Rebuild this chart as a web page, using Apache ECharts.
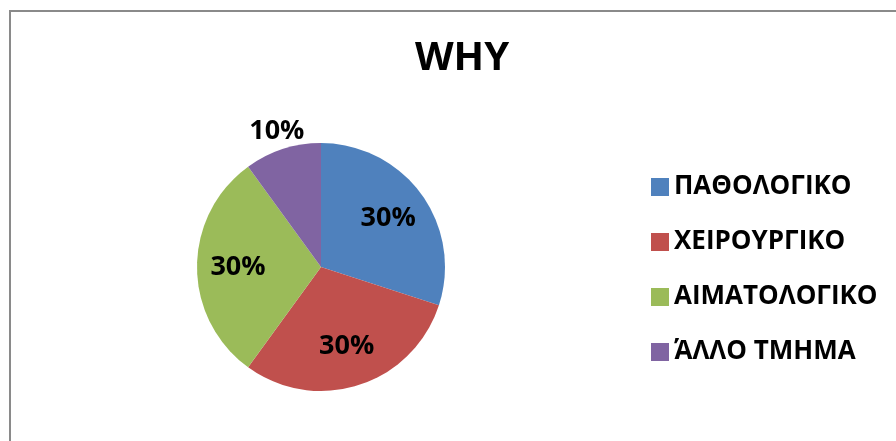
<!DOCTYPE html>
<html>
<head>
<meta charset="utf-8">
<script src="https://cdn.jsdelivr.net/npm/echarts@6/dist/echarts.min.js"></script>
<style>
  html, body { margin: 0; padding: 0; background: #fff; }
  #chart { width: 896px; height: 441px; }
</style>
</head>
<body>
<div id="chart"></div>
<script>
// Department shares
const categories = ['ΠΑΘΟΛΟΓΙΚΟ', 'ΧΕΙΡΟΥΡΓΙΚΟ', 'ΑΙΜΑΤΟΛΟΓΙΚΟ', 'ΆΛΛΟ ΤΜΗΜΑ'];
const shares = [30, 30, 30, 10];
const colors = ['#4F81BD', '#C0504D', '#9BBB59', '#8064A2'];
const titleText = 'WHY';

const FONT = '"Open Sans", "Noto Sans", sans-serif';
const CX = 321, CY = 267, R = 124;

const pieData = categories.map((name, i) => ({
  name, value: shares[i], itemStyle: { color: colors[i] }
}));

const labelStyle = {
  fontFamily: FONT, fontWeight: 'bold', fontSize: 27, color: '#000',
  padding: [6, 0, 0, 0],
  formatter: p => p.value + '%'
};

const chart = echarts.init(document.getElementById('chart'));
chart.setOption({
  animation: false,
  title: {
    text: titleText, left: 457, top: 34, textAlign: 'center',
    textStyle: { fontFamily: FONT, fontWeight: 'bold', fontSize: 40, color: '#000' }
  },
  legend: {
    orient: 'vertical', left: 646, top: 169,
    icon: 'rect', itemWidth: 18, itemHeight: 18, itemGap: 29,
    selectedMode: false,
    data: categories.map((name, i) => ({ name, itemStyle: { color: colors[i] } })),
    textStyle: { fontFamily: FONT, fontWeight: 'bold', fontSize: 26, lineHeight: 26, color: '#000', padding: [0, 0, 0, 0] }
  },
  graphic: [{
    type: 'rect', silent: true, z: -1,
    shape: { x: 10, y: 11, width: 900, height: 440 },
    style: { fill: 'none', stroke: '#8a8a8a', lineWidth: 2 }
  }],
  series: [
    {
      // slices
      type: 'pie', center: [CX, CY], radius: [0, R],
      startAngle: 90, clockwise: true,
      label: { show: false }, labelLine: { show: false },
      emphasis: { disabled: true },
      data: pieData
    },
    {
      // percentage labels inside the larger slices
      type: 'pie', center: [CX, CY], radius: [36, R],
      startAngle: 90, clockwise: true, silent: true,
      itemStyle: { color: 'rgba(0,0,0,0)' },
      labelLine: { show: false },
      emphasis: { disabled: true },
      data: pieData.map((d, i) => ({
        name: d.name, value: d.value,
        itemStyle: { color: 'rgba(0,0,0,0)' },
        label: Object.assign({ show: shares[i] >= 20, position: 'inside' }, labelStyle)
      }))
    },
    {
      // label for the small slice, placed above it
      type: 'pie', center: [CX, CY], radius: [R, 156],
      startAngle: 90, clockwise: true, silent: true,
      labelLine: { show: false },
      emphasis: { disabled: true },
      data: pieData.map((d, i) => ({
        name: d.name, value: d.value,
        itemStyle: { color: 'rgba(0,0,0,0)' },
        label: Object.assign({ show: shares[i] < 20, position: 'inside' }, labelStyle)
      }))
    }
  ]
});
</script>
</body>
</html>
